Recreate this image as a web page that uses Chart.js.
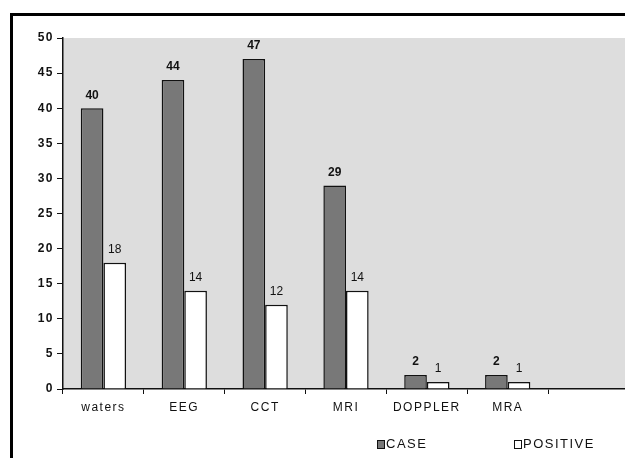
<!DOCTYPE html>
<html>
<head>
<meta charset="utf-8">
<script src="https://cdn.jsdelivr.net/npm/chart.js@4.4.0/dist/chart.umd.min.js"></script>
<style>
    body { margin: 0; background: #fff; overflow: hidden; width: 625px; height: 458px; position: relative; }
    #frame { position: absolute; left: 10px; top: 13px; width: 700px; height: 500px; border: 3px solid #000; }
    #wrap { position: absolute; left: 0; top: 0; width: 634px; height: 458px; }
    #legend { position: absolute; top: 436px; left: 377px; font: 13px "Liberation Sans", Arial, sans-serif; color: #111; letter-spacing: 1.5px; }
    #legend span.item { position: absolute; white-space: nowrap; }
    #legend span.box { display: inline-block; width: 6px; height: 7px; border: 1.5px solid #111; margin-right: 1px; vertical-align: -1px; }
</style>
</head>
<body>
<div id="frame"></div>
<div id="wrap"><canvas id="chart" width="634" height="458"></canvas></div>
<div id="legend"></div>
<script>
const categories = ["waters", "EEG", "CCT", "MRI", "DOPPLER", "MRA", ""];
const caseValues = [40, 44, 47, 29, 2, 2, null];
const positiveValues = [18, 14, 12, 14, 1, 1, null];
const yTicks = [0, 5, 10, 15, 20, 25, 30, 35, 40, 45, 50];

const fontName = '"Liberation Sans", Arial, sans-serif';

// grey plot area behind the bars, and the wide letter spacing of the old chart
const plotBackground = {
    id: "plotBackground",
    beforeDraw(chart) {
        const a = chart.chartArea;
        const ctx = chart.ctx;
        ctx.letterSpacing = "1.5px";
        ctx.save();
        ctx.fillStyle = "#dddddd";
        ctx.fillRect(a.left, a.top, a.right - a.left, a.bottom - a.top);
        ctx.restore();
    }
};

// numbers above each bar
const valueLabels = {
    id: "valueLabels",
    afterDatasetsDraw(chart) {
        const ctx = chart.ctx;
        ctx.save();
        ctx.letterSpacing = "0px";
        ctx.textAlign = "center";
        ctx.textBaseline = "bottom";
        ctx.fillStyle = "#111";
        chart.data.datasets.forEach((ds, di) => {
            const meta = chart.getDatasetMeta(di);
            ctx.font = (di === 0 ? "bold " : "") + "12px " + fontName;
            meta.data.forEach((bar, i) => {
                const v = ds.data[i];
                if (v === null || v === undefined) return;
                ctx.fillText(String(v), bar.x, bar.y - 7);
            });
        });
        ctx.restore();
    }
};

const chart = new Chart(document.getElementById("chart").getContext("2d"), {
    type: "bar",
    data: {
        labels: categories,
        datasets: [
            {
                label: "CASE",
                data: caseValues,
                backgroundColor: "#787878",
                borderColor: "#111",
                borderWidth: 1.5,
                categoryPercentage: 0.56,
                barPercentage: 1.0
            },
            {
                label: "POSITIVE",
                data: positiveValues,
                backgroundColor: "#ffffff",
                borderColor: "#111",
                borderWidth: 1.5,
                categoryPercentage: 0.56,
                barPercentage: 1.0
            }
        ]
    },
    options: {
        responsive: false,
        animation: false,
        layout: { padding: { left: 12, top: 38, right: 5, bottom: 38 } },
        plugins: {
            legend: { display: false },
            tooltip: { enabled: false }
        },
        scales: {
            x: {
                grid: { display: true, drawOnChartArea: false, drawTicks: true, tickLength: 5, color: "#111", offset: true },
                border: { display: true, color: "#111", width: 1.5 },
                ticks: { color: "#111", padding: 6, font: { family: fontName, size: 12 }, maxRotation: 0 },
                afterFit(scale) { scale.height = 31; }
            },
            y: {
                min: 0,
                max: 50,
                afterBuildTicks(scale) { scale.ticks = yTicks.map(v => ({ value: v })); },
                grid: { display: true, drawOnChartArea: false, drawTicks: true, tickLength: 6, color: "#111" },
                border: { display: true, color: "#111", width: 1.5 },
                ticks: { color: "#111", padding: 3, font: { family: fontName, size: 12, weight: "bold" } },
                afterFit(scale) { scale.width = 51; }
            }
        }
    },
    plugins: [plotBackground, valueLabels]
});

// legend under the axis labels, built from the datasets
const legend = document.getElementById("legend");
chart.data.datasets.forEach((ds, i) => {
    const item = document.createElement("span");
    item.className = "item";
    item.style.left = (i * 137) + "px";
    item.innerHTML = '<span class="box" style="background:' + ds.backgroundColor + '"></span>' + ds.label;
    legend.appendChild(item);
});
</script>
</body>
</html>
